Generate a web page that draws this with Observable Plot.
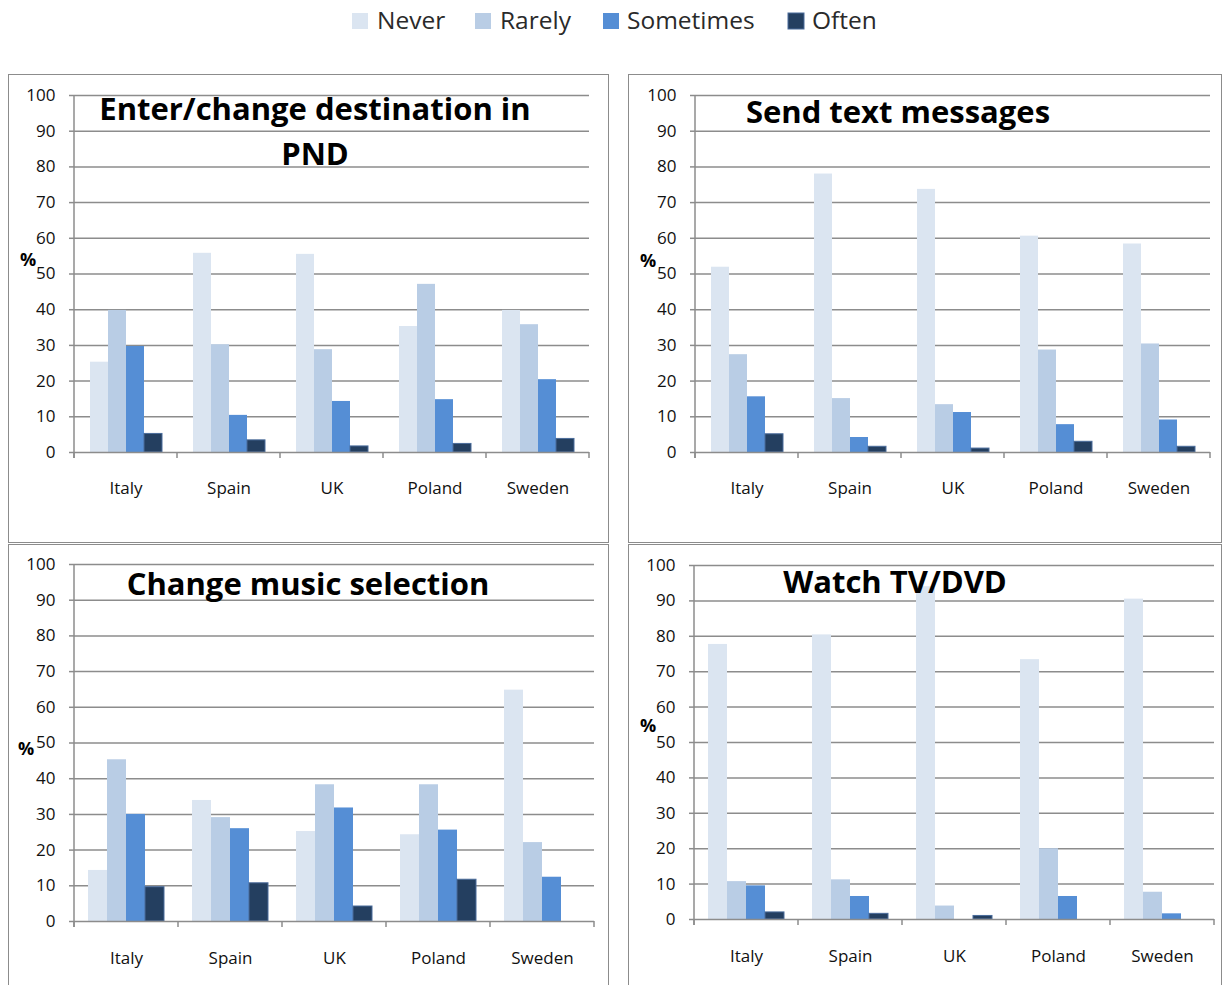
<!DOCTYPE html>
<html>
<head>
<meta charset="utf-8">
<script src="https://cdn.jsdelivr.net/npm/d3@7"></script>
<script src="https://cdn.jsdelivr.net/npm/@observablehq/plot@0.6"></script>
<style>
  html, body { margin: 0; padding: 0; width: 1224px; height: 985px; overflow: hidden; background: #fff; font-family: "Open Sans", sans-serif; }
  .panel { position: absolute; }
  .box { position: absolute; border: 1.5px solid #8c8c8c; box-sizing: border-box; pointer-events: none; }
  #overlay { position: absolute; left: 0; top: 0; pointer-events: none; }
</style>
</head>
<body>
<div id="root"></div>
<script>
// ---------- data ----------
const countries = ["Italy", "Spain", "UK", "Poland", "Sweden"];
const frequencies = ["Never", "Rarely", "Sometimes", "Often"];
const palette = ["#dbe5f1", "#b9cde5", "#558ed5", "#243f60"];
const yTicks = [0, 10, 20, 30, 40, 50, 60, 70, 80, 90, 100];

// rows: Never, Rarely, Sometimes, Often ; columns: Italy, Spain, UK, Poland, Sweden
const pndValues = [
  [25.3, 55.8, 55.5, 35.3, 39.8],
  [39.8, 30.2, 28.8, 47.1, 35.8],
  [29.7, 10.4, 14.3, 14.8, 20.4],
  [5.2, 3.4, 1.7, 2.4, 3.8]
];
const textValues = [
  [51.9, 78.0, 73.7, 60.6, 58.4],
  [27.4, 15.1, 13.4, 28.7, 30.4],
  [15.6, 4.2, 11.2, 7.8, 9.1],
  [5.1, 1.6, 1.1, 3.0, 1.6]
];
const musicValues = [
  [14.3, 33.9, 25.2, 24.3, 64.8],
  [45.3, 29.1, 38.3, 38.3, 22.1],
  [30.0, 26.0, 31.8, 25.6, 12.4],
  [9.6, 10.7, 4.2, 11.7, 0]
];
const tvValues = [
  [77.7, 80.4, 94.0, 73.4, 90.5],
  [10.7, 11.2, 3.8, 20.0, 7.7],
  [9.5, 6.5, 0, 6.5, 1.6],
  [2.0, 1.6, 1.0, 0, 0]
];
const panelTitles = [
  ["Enter/change destination in", "PND"],
  ["Send text messages"],
  ["Change music selection"],
  ["Watch TV/DVD"]
];

// ---------- style / layout ----------
const GRID = "#8c8c8c";
const TEXT = "#111";
const FONT = "'Open Sans', sans-serif";

const layouts = [
  {left: 8,   top: 74,  w: 601, h: 449, ml: 65, mr: 20, mt: 21, mb: 71, pad: 29,
   title: {x: 315, y: [120, 165]}, pct: {x: 28, y: 266}},
  {left: 628, top: 74,  w: 594, h: 449, ml: 65, mr: 10, mt: 21, mb: 71, pad: 29,
   title: {x: 898, y: [123]}, pct: {x: 648, y: 267}},
  {left: 8,   top: 544, w: 601, h: 441, ml: 65, mr: 15, mt: 20, mb: 64, pad: 30,
   title: {x: 308, y: [595]}, pct: {x: 26, y: 755}},
  {left: 628, top: 544, w: 594, h: 441, ml: 65, mr: 7,  mt: 21, mb: 66, pad: 30,
   title: {x: 895, y: [593]}, pct: {x: 648, y: 732}}
];
const allValues = [pndValues, textValues, musicValues, tvValues];

// x-axis tick marks at category boundaries + vertical y-axis line, from the plot's own scales
function addChrome(chart) {
  const fxS = chart.scale("fx");
  const yS = chart.scale("y");
  const y0 = yS.apply(0), yTop = yS.apply(100);
  const g = d3.select(chart).append("g").attr("stroke", GRID).attr("stroke-width", 1.5).attr("fill", "none");
  const line = (x, ya, yb) => g.append("line").attr("x1", x).attr("x2", x).attr("y1", ya).attr("y2", yb);
  const edges = countries.map(c => fxS.apply(c));
  edges.push(fxS.apply(countries[countries.length - 1]) + fxS.bandwidth);
  edges.forEach(x => line(x, y0, y0 + 6));
  line(edges[0], yTop, y0 + 6);
}

function drawPanel(values, cfg) {
  const rows = frequencies.flatMap((f, i) => countries.map((c, j) => ({country: c, freq: f, value: values[i][j]})));
  const chart = Plot.plot({
    width: cfg.w, height: cfg.h,
    marginLeft: cfg.ml, marginRight: cfg.mr, marginTop: cfg.mt, marginBottom: cfg.mb,
    style: {background: "transparent", fontFamily: FONT, overflow: "visible", color: TEXT},
    fx: {domain: countries, padding: 0, label: null},
    x: {domain: frequencies, paddingInner: 0, paddingOuter: 0.72, axis: null},
    y: {domain: [0, 100], label: null},
    color: {domain: frequencies, range: palette},
    marks: [
      Plot.ruleY(yTicks.filter(t => t > 0), {stroke: GRID, strokeWidth: 1.5}),
      Plot.barY(rows.filter(d => d.freq !== "Often" && d.value > 0), {fx: "country", x: "freq", y: "value", fill: "freq"}),
      Plot.barY(rows.filter(d => d.freq === "Often" && d.value > 0), {fx: "country", x: "freq", y: "value", fill: "freq", stroke: "#4a6c9b", strokeWidth: 1}),
      Plot.ruleY([0], {stroke: GRID, strokeWidth: 1.5}),
      Plot.axisY(yTicks, {tickSize: 5, tickPadding: 14, fontSize: 17, stroke: GRID, strokeWidth: 1.5, fill: TEXT, label: null}),
      Plot.axisFx({anchor: "bottom", tickSize: 0, tickPadding: cfg.pad, fontSize: 17, fill: TEXT, label: null})
    ]
  });
  addChrome(chart);
  return chart;
}

const root = document.getElementById("root");
layouts.forEach((cfg, i) => {
  const box = document.createElement("div");
  box.className = "box";
  Object.assign(box.style, {left: cfg.left + "px", top: cfg.top + "px", width: cfg.w + "px", height: (cfg.h + 20) + "px"});
  root.appendChild(box);
  const holder = document.createElement("div");
  holder.className = "panel";
  Object.assign(holder.style, {left: cfg.left + "px", top: cfg.top + "px"});
  holder.appendChild(drawPanel(allValues[i], cfg));
  root.appendChild(holder);
});

// ---------- overlay: legend, titles, % labels ----------
const overlay = d3.select(root).append("svg").attr("id", "overlay")
  .attr("width", 1224).attr("height", 985)
  .style("font-family", FONT);

const legendItems = [
  {sq: 352, tx: 377},
  {sq: 475, tx: 500},
  {sq: 603, tx: 627},
  {sq: 788, tx: 812}
];
frequencies.forEach((f, i) => {
  overlay.append("rect").attr("x", legendItems[i].sq).attr("y", 13).attr("width", 16).attr("height", 16)
    .attr("fill", palette[i]).attr("stroke", f === "Often" ? "#4a6c9b" : "none");
  overlay.append("text").attr("x", legendItems[i].tx).attr("y", 29)
    .attr("font-size", 24.5).attr("fill", "#2a2a2a").text(f);
});

layouts.forEach((cfg, i) => {
  panelTitles[i].forEach((line, k) => {
    overlay.append("text").attr("x", cfg.title.x).attr("y", cfg.title.y[k])
      .attr("text-anchor", "middle").attr("font-size", 31).attr("font-weight", "bold")
      .attr("fill", "#000").text(line);
  });
  overlay.append("text").attr("x", cfg.pct.x).attr("y", cfg.pct.y)
    .attr("text-anchor", "middle").attr("font-size", 18).attr("font-weight", "bold")
    .attr("fill", "#000").text("%");
});
</script>
</body>
</html>
